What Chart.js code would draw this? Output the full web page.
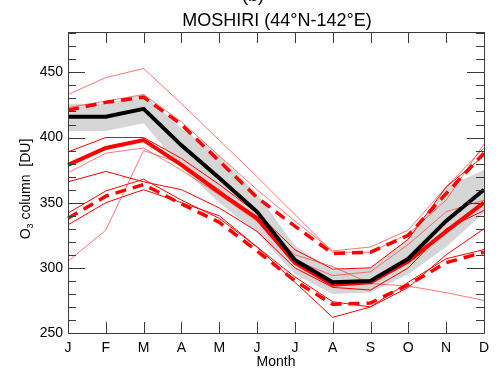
<!DOCTYPE html>
<html>
<head>
<meta charset="utf-8">
<script src="https://cdn.jsdelivr.net/npm/chart.js@4.4.1/dist/chart.umd.min.js"></script>
<style>
  html, body { margin: 0; padding: 0; background: #ffffff; }
  #c { display: block; }
</style>
</head>
<body>
<canvas id="c" width="496" height="373"></canvas>
<script>
// ---- data ----
const months = ['J','F','M','A','M','J','J','A','S','O','N','D'];
const yTicks = [250, 300, 350, 400, 450];

const obsMean  = [416,416,422,394,369,343,306,289,290,307,336,360];
const obsUpper = [426,426,433,407,386,357,317,298,300,322,362,375];
const obsLower = [405,405,411,377,350,327,295,280,281,295,316,342];

const modelMean = [379,392,398,379,358,338,304,287,289,305,328,350];
const dashUpper = [421,427,431,410,382,354,332,311,312,325,357,388];
const dashLower = [338,355,364,349,335,313,290,272,273,287,304,312];

const thin1 = [433,446,453,426,398,370,341,312,312,326,352,395];
const thin2 = [389,400,400,384,364,342,314,299,300,322,362,386];
const thin3 = [373,388,392,375,356,336,306,294,297,318,343,352];
const thin4 = [366,374,366,360,346,328,300,285,283,300,330,344];
const thin5 = [305,329,390,380,360,336,310,301,288,286,281,275];
const thin6 = [342,359,368,352,338,316,293,274,270,289,307,314];
const thin7 = [333,350,360,350,340,316,289,262,270,285,310,330];
const thin8 = [423,428,433,412,386,360,336,313,316,329,362,392];

const titleText = 'MOSHIRI (44°N-142°E)';
const panelText = '(b)';
const xTitle = 'Month';

const RED = '#ff0000';
const LIGHT = 'rgba(255,70,70,0.75)';

function thin(data, color, order) {
  return { data, borderColor: color, borderWidth: 1, pointRadius: 0, fill: false, order, tension: 0 };
}

const datasets = [
  { data: obsMean, borderColor: '#000000', borderWidth: 4, pointRadius: 0, fill: false, order: 0 },
  { data: modelMean, borderColor: RED, borderWidth: 4, pointRadius: 0, fill: false, order: 1 },
  { data: dashUpper, borderColor: RED, borderWidth: 3.5, borderDash: [11, 7], pointRadius: 0, fill: false, order: 2 },
  { data: dashLower, borderColor: RED, borderWidth: 3.5, borderDash: [11, 7], pointRadius: 0, fill: false, order: 2 },
  thin(thin1, LIGHT, 3),
  thin(thin2, RED, 3),
  thin(thin3, LIGHT, 3),
  thin(thin4, RED, 3),
  thin(thin5, LIGHT, 3),
  thin(thin6, RED, 3),
  thin(thin7, RED, 3),
  thin(thin8, LIGHT, 3),
  { data: obsUpper, borderColor: 'rgba(0,0,0,0)', borderWidth: 0, pointRadius: 0, backgroundColor: '#d6d6d6', fill: '+1', order: 10 },
  { data: obsLower, borderColor: 'rgba(0,0,0,0)', borderWidth: 0, pointRadius: 0, fill: false, order: 11 }
];

const FONT = 'Liberation Sans, Arial, Helvetica, sans-serif';

const framePlugin = {
  id: 'frame',
  afterDatasetsDraw(chart) {
    const { ctx, chartArea: a, scales } = chart;
    const y = scales.y, x = scales.x;
    ctx.save();
    ctx.strokeStyle = '#3a3a3a';
    ctx.lineWidth = 1;
    ctx.beginPath();
    ctx.rect(Math.round(a.left) + 0.5, Math.round(a.top) + 0.5, Math.round(a.right - a.left), Math.round(a.bottom - a.top));
    ctx.stroke();
    ctx.beginPath();
    for (let v = 250; v <= 480; v += 10) {
      const py = Math.round(y.getPixelForValue(v)) + 0.5;
      const len = (v % 50 === 0) ? 17 : 8;
      ctx.moveTo(a.left, py); ctx.lineTo(a.left + len, py);
      ctx.moveTo(a.right, py); ctx.lineTo(a.right - len, py);
    }
    for (let i = 0; i < months.length; i++) {
      const px = Math.round(x.getPixelForValue(i)) + 0.5;
      ctx.moveTo(px, a.bottom); ctx.lineTo(px, a.bottom - 11);
      ctx.moveTo(px, a.top); ctx.lineTo(px, a.top + 11);
    }
    ctx.stroke();
    ctx.restore();
  },
  afterDraw(chart) {
    const { ctx, chartArea: a } = chart;
    ctx.save();
    ctx.fillStyle = '#000';
    ctx.textAlign = 'center';
    ctx.textBaseline = 'alphabetic';
    ctx.font = '18px ' + FONT;
    ctx.fillText(panelText, 253, 1);
    ctx.fillText(titleText, 277, 26);
    ctx.font = '14px ' + FONT;
    ctx.textBaseline = 'middle';
    ctx.fillText(xTitle, (a.left + a.right) / 2, 362);
    ctx.translate(25, 189);
    ctx.rotate(-Math.PI / 2);
    ctx.textBaseline = 'alphabetic';
    const f1 = '14px ' + FONT, f2 = '9px ' + FONT;
    ctx.font = f1; const wO = ctx.measureText('O').width;
    ctx.font = f2; const w3 = ctx.measureText('3').width;
    ctx.font = f1; const wR = ctx.measureText(' column  [DU]').width;
    const total = wO + w3 + wR;
    let sx = -total / 2;
    ctx.textAlign = 'left';
    ctx.font = f1; ctx.fillText('O', sx, 5); sx += wO;
    ctx.font = f2; ctx.fillText('3', sx, 8); sx += w3;
    ctx.font = f1; ctx.fillText(' column  [DU]', sx, 5);
    ctx.restore();
  }
};

new Chart(document.getElementById('c'), {
  type: 'line',
  data: { labels: months, datasets },
  options: {
    responsive: false,
    devicePixelRatio: 1,
    animation: false,
    layout: { padding: { top: 32, right: 6, left: 0, bottom: 0 } },
    plugins: { legend: { display: false }, tooltip: { enabled: false }, title: { display: false } },
    elements: { line: { tension: 0 } },
    scales: {
      x: {
        type: 'category',
        offset: false,
        grid: { display: false, drawTicks: false },
        border: { display: false },
        ticks: { color: '#000', font: { family: FONT, size: 14 }, padding: 7, autoSkip: false, maxRotation: 0 },
        afterFit(s) { s.height = 40; }
      },
      y: {
        min: 250, max: 481,
        grid: { display: false, drawTicks: false },
        border: { display: false },
        afterBuildTicks(s) { s.ticks = yTicks.map(v => ({ value: v })); },
        ticks: { color: '#000', font: { family: FONT, size: 14 }, padding: 5 },
        afterFit(s) { s.width = 68; }
      }
    }
  },
  plugins: [framePlugin]
});
</script>
</body>
</html>
